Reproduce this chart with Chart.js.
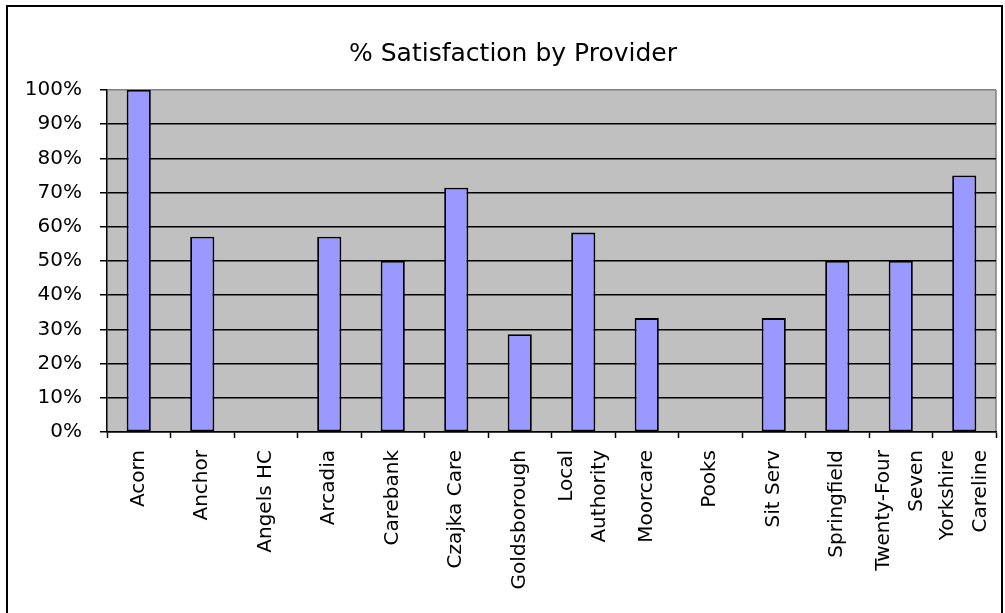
<!DOCTYPE html>
<html><head><meta charset="utf-8">
<script src="https://cdn.jsdelivr.net/npm/chart.js@4.4.0/dist/chart.umd.min.js"></script>
<style>html,body{margin:0;padding:0;background:#fff}#wrap{width:1005px;height:613px;position:relative}</style>
</head><body><div id="wrap"><canvas id="c" width="1005" height="613"></canvas></div>
<script>
const chartTitle = '% Satisfaction by Provider';
const categories = ['Acorn', 'Anchor', 'Angels HC', 'Arcadia', 'Carebank', 'Czajka Care', 'Goldsborough',
  ['Local', 'Authority'], 'Moorcare', 'Pooks', 'Sit Serv', 'Springfield', ['Twenty-Four', 'Seven'], ['Yorkshire', 'Careline']];
const satisfaction = [1.0, 0.571, 0, 0.571, 0.5, 0.714, 0.286, 0.583, 0.333, 0, 0.333, 0.5, 0.5, 0.75];
const yTickValues = [0, 0.1, 0.2, 0.3, 0.4, 0.5, 0.6, 0.7, 0.8, 0.9, 1.0];
const yTickLabels = ['0%', '10%', '20%', '30%', '40%', '50%', '60%', '70%', '80%', '90%', '100%'];

const FONT = 'DejaVu Sans';
const LABEL_SIZE = 20;
const LABEL_LH = 1.65;

const framePlugin = {
  id: 'frame',
  beforeDraw(chart) {
    const {ctx, chartArea: a} = chart;
    ctx.save();
    ctx.fillStyle = '#ffffff';
    ctx.fillRect(0, 0, chart.width, chart.height);
    ctx.fillStyle = '#C0C0C0';
    ctx.fillRect(a.left, a.top, a.right - a.left, a.bottom - a.top);
    ctx.strokeStyle = '#808080';
    ctx.lineWidth = 1.5;
    ctx.beginPath();
    ctx.moveTo(a.right, a.top);
    ctx.lineTo(a.right, a.bottom);
    ctx.stroke();
    ctx.restore();
  },
  afterDraw(chart) {
    const {ctx} = chart;
    ctx.save();
    ctx.strokeStyle = '#000';
    ctx.lineWidth = 2;
    ctx.strokeRect(7, 6, 995, 620);
    ctx.fillStyle = '#000';
    ctx.font = '25px "' + FONT + '"';
    ctx.textAlign = 'center';
    ctx.textBaseline = 'alphabetic';
    ctx.fillText(chartTitle, 513, 61);
    ctx.restore();
  }
};

new Chart(document.getElementById('c'), {
  type: 'bar',
  data: {
    labels: categories,
    datasets: [{
      data: satisfaction,
      backgroundColor: '#9999FF',
      borderColor: '#000000',
      borderWidth: 1.8,
      borderSkipped: false,
      barPercentage: 0.38,
      categoryPercentage: 1.0
    }]
  },
  options: {
    responsive: false,
    animation: false,
    devicePixelRatio: 1,
    layout: {padding: {top: 90, right: 9, left: 0, bottom: 0}},
    plugins: {legend: {display: false}, title: {display: false}, tooltip: {enabled: false}},
    scales: {
      y: {
        min: 0, max: 1,
        afterFit(s) { s.width = 107; s.paddingTop = 0; s.paddingBottom = 0; },
        afterBuildTicks(s) { s.ticks = yTickValues.map(v => ({value: v})); },
        ticks: {
          callback: (v) => yTickLabels[yTickValues.findIndex(t => Math.abs(t - v) < 1e-6)],
          color: '#000',
          font: {family: FONT, size: 20},
          padding: 18
        },
        grid: {
          color: (c) => (c.tick && Math.abs(c.tick.value - 1) < 1e-6) ? '#808080' : '#000000',
          lineWidth: 1.5,
          tickLength: 7,
          tickColor: '#000000',
          tickWidth: 1.5
        },
        border: {color: '#000000', width: 1.5}
      },
      x: {
        afterFit(s) {
          s.height = 181;
          s.paddingLeft = 0;
          s.paddingRight = 0;
          s._computeLabelItems = function (ca) {
            const items = Object.getPrototypeOf(this)._computeLabelItems.call(this, ca);
            items.forEach(it => {
              const tr = (it.options && it.options.translation) || it.translation;
              if (tr && Array.isArray(it.label) && it.label.length > 1) {
                tr[0] -= (it.label.length - 1) * LABEL_SIZE * LABEL_LH / 2;
              }
            });
            return items;
          };
        },
        ticks: {
          autoSkip: false,
          maxRotation: 90,
          minRotation: 90,
          color: '#000',
          font: {family: FONT, size: LABEL_SIZE, lineHeight: LABEL_LH},
          padding: 12
        },
        grid: {
          offset: true,
          drawOnChartArea: false,
          tickLength: 6,
          tickColor: '#000000',
          tickWidth: 1.5
        },
        border: {color: '#000000', width: 1.5}
      }
    }
  },
  plugins: [framePlugin]
});
</script>
</body></html>
